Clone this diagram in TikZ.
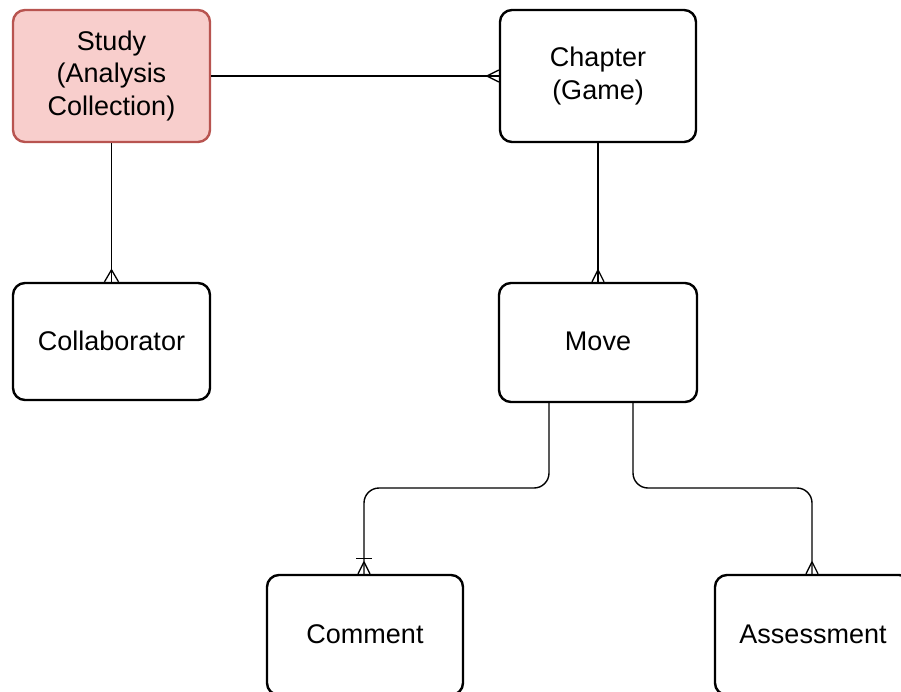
\documentclass[tikz,border=0pt]{standalone}
\usepackage{fontspec}
\setmainfont{Liberation Sans}
\definecolor{pinkfill}{HTML}{F8CECC}
\definecolor{pinkline}{HTML}{B85450}
\begin{document}
\begin{tikzpicture}[x=1pt,y=-1pt,
  entity/.style={draw=black, line width=2.4pt, rounded corners=12pt, fill=white,
    minimum width=196pt, inner sep=0pt, align=center,
    font=\fontsize{27}{32.5}\selectfont},
  conn/.style={draw=black, line width=1.4pt},
  foot/.style={draw=black, line width=1.3pt}]
\useasboundingbox (0,0) rectangle (901,691);
\clip (0,0) rectangle (901,691);
\node[entity, fill=pinkfill, draw=pinkline, minimum width=197pt, minimum height=132pt] (study) at (111.5,76) {Study\\(Analysis\\Collection)};
\node[entity, minimum height=132pt] (chapter) at (598,76) {Chapter\\(Game)};
\node[entity, minimum width=197pt, minimum height=117pt] (collab) at (111.5,341.5) {\raisebox{1.5pt}{Collaborator}};
\node[entity, minimum width=198pt, minimum height=119pt] (move) at (598,342.5) {\raisebox{2pt}{Move}};
\node[entity, minimum height=120pt] (comment) at (365,635) {\raisebox{2pt}{Comment}};
\node[entity, minimum height=120pt] (assess) at (813,635) {\raisebox{2pt}{Assessment}};
% Study -- Chapter
\draw[conn] (study.east) -- (chapter.west);
\draw[foot] (chapter.west) ++(-12,0) -- ++(12,-6);
\draw[foot] (chapter.west) ++(-12,0) -- ++(12,6);
% Study -- Collaborator
\draw[conn] (study.south) -- (collab.north);
\draw[foot] (collab.north) ++(0,-12) -- ++(-7,12);
\draw[foot] (collab.north) ++(0,-12) -- ++(7,12);
% Chapter -- Move
\draw[conn] (chapter.south) -- (move.north);
\draw[foot] (move.north) ++(0,-12) -- ++(-6,12);
\draw[foot] (move.north) ++(0,-12) -- ++(6,12);
% Move -- Comment
\coordinate (m1) at ([xshift=-49pt]move.south);
\coordinate (m2) at ([xshift=35pt]move.south);
\coordinate (c1) at ([xshift=-1pt]comment.north);
\draw[conn, rounded corners=15pt] (m1) -- (m1 |- 0,488) -- (c1 |- 0,488) -- (c1);
\draw[foot] (c1) ++(0,-12) -- ++(-6,12);
\draw[foot] (c1) ++(0,-12) -- ++(6,12);
\draw[foot] (c1) ++(-8,-15) -- ++(16,0);
% Move -- Assessment
\coordinate (a1) at ([xshift=-1pt]assess.north);
\draw[conn, rounded corners=15pt] (m2) -- (m2 |- 0,488) -- (a1 |- 0,488) -- (a1);
\draw[foot] (a1) ++(0,-12) -- ++(-6,12);
\draw[foot] (a1) ++(0,-12) -- ++(6,12);
\end{tikzpicture}
\end{document}
